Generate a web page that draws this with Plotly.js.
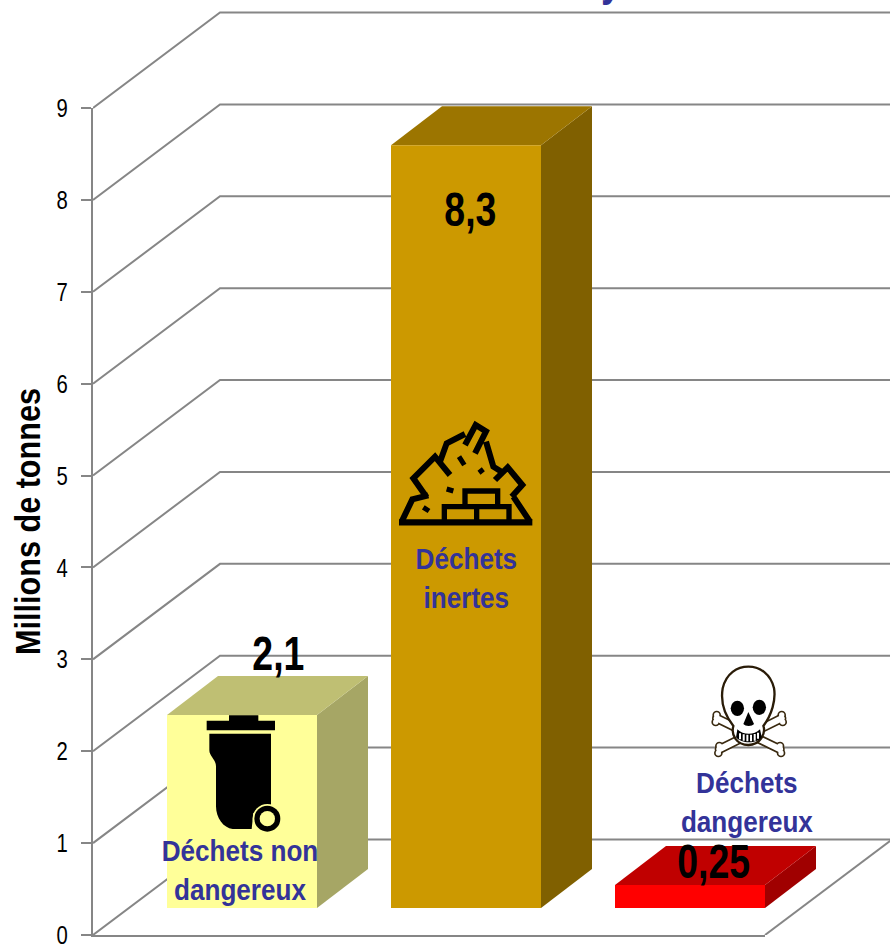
<!DOCTYPE html>
<html><head><meta charset="utf-8">
<script src="https://cdn.plot.ly/plotly-3.0.1.min.js"></script>
<style>html,body{margin:0;padding:0;background:#fff}</style></head>
<body><div id="chart" style="width:890px;height:944px"></div>
<script>
const categories = ["Déchets non<br>dangereux", "Déchets<br>inertes", "Déchets<br>dangereux"];
const values = [2.1, 8.3, 0.25];
const tickValues = [0, 1, 2, 3, 4, 5, 6, 7, 8, 9];
const frontColors = ["#FFFF99", "#CC9900", "#FF0000"];
const topColors = ["#BFBF73", "#9C7500", "#C00000"];
const sideColors = ["#A6A665", "#806000", "#A00000"];

const W = 890, H = 944, L = 93, B = 9, AXW = 672, AXH = 827;
const PXX = AXW / 3, PXY = AXH / 9;
const dx = p => p / PXX, dy = p => p / PXY;
const toX = p => (p - L) / PXX, toY = p => (H - B - p) / PXY;
const paperX = p => (p - L) / (W - L), paperY = p => (H - B - p) / (H - B);

const wallDx = dx(127), wallDy = dy(95.5);
const barW = dx(150), barDx = dx(51), barDy = dy(39), baseDx = dx(37), baseDy = dy(27);
const GRID = "#868686";
const poly = (x, y, color) => ({x, y, xaxis: "x2", yaxis: "y2", type: "scatter", mode: "lines", fill: "toself", fillcolor: color,
  line: {width: 0, color}, hoverinfo: "skip", showlegend: false});
const rule = (x, y) => ({x, y, xaxis: "x2", yaxis: "y2", type: "scatter", mode: "lines",
  line: {color: GRID, width: 2}, hoverinfo: "skip", showlegend: false});

const traces = [{x: [0, 3], y: [0, 9], xaxis: "x", yaxis: "y", type: "scatter", mode: "none", hoverinfo: "skip", showlegend: false}];
const xEnd = toX(W + 2);
tickValues.forEach(v => traces.push(rule([0, wallDx, xEnd], [v, v + wallDy, v + wallDy])));
traces.push(rule([3, xEnd], [0, wallDy * (xEnd - 3) / wallDx]));

values.forEach((v, i) => {
  const l = i + 0.5 + baseDx - barW / 2, r = l + barW, b = baseDy, t = baseDy + v;
  traces.push(poly([r, r + barDx, r + barDx, r, r], [b, b + barDy, t + barDy, t, b], sideColors[i]));
  traces.push(poly([l, r, r + barDx, l + barDx, l], [t, t, t + barDy, t + barDy, t], topColors[i]));
  traces.push(poly([l, r, r, l, l], [b, b, t, t, b], frontColors[i]));
});

const FONT = "'Liberation Sans',Arial,sans-serif";
const valueShiftX = [36, 4, 23], valueShiftY = [62, -64, 24];
const annotations = values.map((v, i) => ({
  x: i + 0.5 + baseDx, y: baseDy + v, xref: "x2", yref: "y2", showarrow: false,
  xshift: valueShiftX[i], yshift: valueShiftY[i], xanchor: "center", yanchor: "middle",
  text: "<b>" + String(v).replace(".", ",") + "</b>",
  font: {family: FONT, size: 48, color: "#000"}
}));
const labelPx = [[240, 870], [466, 578], [747, 802]];
categories.forEach((c, i) => annotations.push({
  x: toX(labelPx[i][0]), y: toY(labelPx[i][1]), xref: "x2", yref: "y2", showarrow: false,
  xanchor: "center", yanchor: "middle", align: "center", text: "<b>" + c + "</b>",
  font: {family: FONT, size: 30, color: "#333399"}
}));
annotations.push({x: toX(611), y: toY(7), xref: "x2", yref: "y2", showarrow: false, xanchor: "center", yanchor: "bottom",
  text: "<b>y</b>", font: {family: FONT, size: 48, color: "#333399"}});

const svgUri = s => "data:image/svg+xml;base64," + btoa(s);
const rubble = `<svg xmlns="http://www.w3.org/2000/svg" viewBox="30 30 425 320" width="425" height="320"><g fill="none" stroke="#000" stroke-width="18" stroke-linejoin="miter">
<path stroke-width="19" d="M42 337H442"/>
<path d="M50 335L82 268L130 256M125 262L85 205L150 140L195 195M165 155L185 100L240 72M240 105L272 45L303 64L270 130M303 95L325 170L352 187M330 210L368 172L412 225L380 260M385 260L435 335"/>
<path stroke-width="16" d="M240 285V243H338V285M178 330V290H372V330M275 290V330"/>
<path stroke-width="15" d="M222 140L238 165M282 188L295 178M185 237L205 243M115 292L132 303"/></g></svg>`;
const bin = `<svg xmlns="http://www.w3.org/2000/svg" viewBox="165 160 230 360" width="230" height="360">
<path d="M170 183H237V167H325V183H375V212H170Z" fill="#000"/>
<path d="M178 222H363V440L310 460L305 508H248C220 505 198 475 198 440V320C198 300 178 290 178 272Z" fill="#000"/>
<circle cx="352" cy="477" r="44" fill="#FFFF99"/><circle cx="352" cy="477" r="39" fill="#000"/><circle cx="352" cy="477" r="23" fill="#FFFF99"/></svg>`;
const bone = (a, b, c, d) => `<path d="M${a} ${b}L${c} ${d}" stroke="#3a2a10" stroke-width="28" stroke-linecap="round"/>`
  + `<circle cx="${a}" cy="${b-10}" r="13" fill="#3a2a10"/><circle cx="${a+(a<c?-3:3)}" cy="${b+11}" r="13" fill="#3a2a10"/><circle cx="${c}" cy="${d-10}" r="13" fill="#3a2a10"/><circle cx="${c+(a<c?3:-3)}" cy="${d+11}" r="13" fill="#3a2a10"/>`
  + `<path d="M${a} ${b}L${c} ${d}" stroke="#fff" stroke-width="18" stroke-linecap="round"/>`
  + `<circle cx="${a}" cy="${b-10}" r="8" fill="#fff"/><circle cx="${a+(a<c?-3:3)}" cy="${b+11}" r="8" fill="#fff"/><circle cx="${c}" cy="${d-10}" r="8" fill="#fff"/><circle cx="${c+(a<c?3:-3)}" cy="${d+11}" r="8" fill="#fff"/>`;
const skull = `<svg xmlns="http://www.w3.org/2000/svg" viewBox="320 40 250 285" width="250" height="285">
${bone(350, 205, 540, 298)}${bone(545, 205, 358, 298)}
<path d="M400 228C370 190 362 150 368 115C378 70 412 50 445 50C480 50 512 72 522 115C528 150 515 195 490 228C498 250 480 285 445 285C410 285 392 255 400 228Z" fill="#fff" stroke="#2a1c08" stroke-width="7"/>
<ellipse cx="412" cy="175" rx="20" ry="23" fill="#000"/><ellipse cx="478" cy="172" rx="20" ry="23" fill="#000"/>
<path d="M445 186L430 222C436 230 456 230 462 222Z" fill="#000"/>
<path d="M412 238C430 256 462 256 480 238L485 262C470 282 425 282 408 262Z" fill="#000"/>
<path d="M420 250V268M431 253V272M442 254V274M453 254V274M464 252V272M474 248V266" stroke="#fff" stroke-width="6"/>
</svg>`;
const img = (s, x0, y0, x1, y1) => ({source: svgUri(s), xref: "paper", yref: "paper", x: paperX(x0), y: paperY(y0),
  sizex: paperX(x1) - paperX(x0), sizey: paperY(y0) - paperY(y1), xanchor: "left", yanchor: "top", sizing: "stretch", layer: "above"});
const images = [
  img(rubble, 395, 420, 395 + 425 / 3, 420 + 320 / 3),
  img(bin, 205, 713, 205 + 230 / 3, 713 + 120),
  img(skull, 706.7, 663.3, 706.7 + 250 / 3, 663.3 + 95)
];

const layout = {
  width: W, height: H, margin: {l: L, r: 0, t: 0, b: B, pad: 0},
  paper_bgcolor: "#fff", plot_bgcolor: "rgba(0,0,0,0)", showlegend: false, hovermode: false,
  xaxis: {domain: [0, AXW / (W - L)], range: [0, 3], anchor: "y", showgrid: false, zeroline: false, showticklabels: false, ticks: "",
    showline: true, linecolor: GRID, linewidth: 2, fixedrange: true},
  yaxis: {domain: [0, AXH / (H - B)], range: [0, 9], anchor: "x", tickvals: tickValues, ticktext: tickValues.map(String),
    showgrid: false, zeroline: false, showline: true, linecolor: GRID, linewidth: 2, ticks: "outside", ticklen: 10, tickwidth: 2,
    tickcolor: GRID, ticklabelstandoff: 8, ticklabeloverflow: "allow", tickfont: {family: FONT, size: 26, color: "#000"}, fixedrange: true,
    title: {text: "<b>Millions de tonnes</b>", standoff: 2, font: {family: FONT, size: 35, color: "#000"}}},
  xaxis2: {domain: [0, 1], range: [0, (W - L) / PXX], anchor: "y2", visible: false, fixedrange: true},
  yaxis2: {domain: [0, 1], range: [0, (H - B) / PXY], anchor: "x2", visible: false, fixedrange: true},
  annotations, images
};
const narrow = (el, k, anchorRight) => {
  const b = el.getBBox();
  const cx = anchorRight ? b.x + b.width : b.x + b.width / 2;
  const t = el.getAttribute("transform") || "";
  el.setAttribute("transform", `${t} translate(${cx},0) scale(${k},1) translate(${-cx},0)`);
};
Plotly.newPlot("chart", traces, layout, {displayModeBar: false, staticPlot: true}).then(gd => {
  gd.querySelectorAll(".ytick text").forEach(t => narrow(t, 0.78, true));
  gd.querySelectorAll(".ytitle").forEach(t => narrow(t, 0.875, false));
  gd.querySelectorAll(".annotation-text").forEach(t => narrow(t, /[0-9y]/.test(t.textContent) && t.textContent.length < 5 ? 0.78 : 0.87, false));
});
</script></body></html>
